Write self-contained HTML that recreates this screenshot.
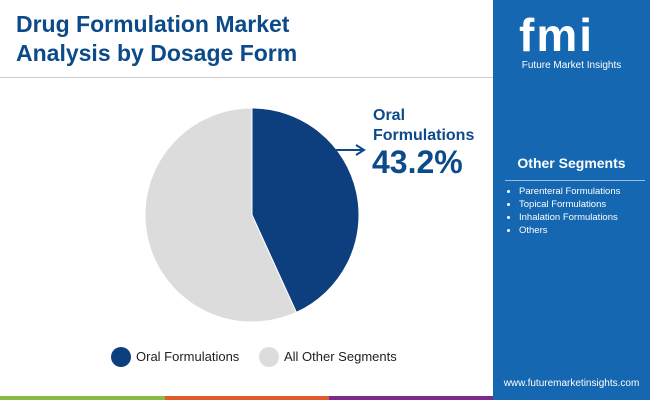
<!DOCTYPE html>
<html><head><meta charset="utf-8"><style>
body{margin:0;width:650px;height:400px;overflow:hidden;background:#fff;font-family:"Liberation Sans",sans-serif;position:relative}
.t{position:absolute;left:16px;top:10px;font-size:23px;font-weight:bold;color:#0d4a8a;line-height:29px}
.panel{position:absolute;left:493px;top:0;width:157px;height:400px;background:#1467b0}
</style></head><body>
<div class="t">Drug Formulation Market<br>Analysis by Dosage Form</div>
<div style="position:absolute;left:0;top:77px;width:493px;height:1px;background:#ccc"></div>
<div class="panel">
 <div style="position:absolute;left:26px;top:8px;font-size:46px;font-weight:bold;color:#fff;letter-spacing:2px">fmi</div>
 <div style="position:absolute;left:0;width:157px;text-align:center;top:60px;font-size:10px;color:#fff">Future Market Insights</div>
 <div style="position:absolute;left:0;width:157px;text-align:center;top:155px;font-size:14px;font-weight:bold;color:#fff">Other Segments</div>
 <div style="position:absolute;left:12px;top:180px;width:140px;height:1px;background:#9cc0e0"></div>
 <ul style="position:absolute;left:0;top:185px;margin:0;padding-left:26px;font-size:9.5px;color:#fff;line-height:13px">
  <li>Parenteral Formulations</li>
  <li>Topical Formulations</li>
  <li>Inhalation Formulations</li>
  <li>Others</li>
 </ul>
 <div style="position:absolute;left:0;width:157px;text-align:center;top:378px;font-size:10px;color:#fff">www.futuremarketinsights.com</div>
</div>
<div style="position:absolute;left:0;top:396px;width:165px;height:4px;background:#8cbb45"></div>
<div style="position:absolute;left:165px;top:396px;width:164px;height:4px;background:#e05a2a"></div>
<div style="position:absolute;left:329px;top:396px;width:164px;height:4px;background:#7b2c8a"></div>
<svg id="pie" width="493" height="396" style="position:absolute;left:0;top:0"></svg>
<div style="position:absolute;left:373px;top:106px;font-size:16px;font-weight:bold;color:#0d4a8a;line-height:20px">Oral<br>Formulations</div>
<div style="position:absolute;left:372px;top:144px;font-size:32px;font-weight:bold;color:#0d4a8a">43.2%</div>
<div style="position:absolute;left:111px;top:347px;width:20px;height:20px;border-radius:50%;background:#0d3f7e"></div>
<div style="position:absolute;left:136px;top:349px;font-size:13px;color:#222">Oral Formulations</div>
<div style="position:absolute;left:259px;top:347px;width:20px;height:20px;border-radius:50%;background:#dcdcdc"></div>
<div style="position:absolute;left:284px;top:349px;font-size:13px;color:#222">All Other Segments</div>
<script>
const categories=["Oral Formulations","All Other Segments"];
const values=[43.2,56.8];
const colors=["#0d3f7e","#dcdcdc"];
const svg=document.getElementById('pie');
const cx=252,cy=215,r=107;
const total=values.reduce((a,b)=>a+b,0);
let a0=0;
function pt(a){const t=a/total*2*Math.PI-Math.PI/2;return [cx+r*Math.cos(t),cy+r*Math.sin(t)];}
values.forEach((v,i)=>{
 const p0=pt(a0),p1=pt(a0+v);
 const large=v/total>0.5?1:0;
 const path=document.createElementNS('http://www.w3.org/2000/svg','path');
 path.setAttribute('d',`M${cx},${cy}L${p0[0]},${p0[1]}A${r},${r} 0 ${large} 1 ${p1[0]},${p1[1]}Z`);
 path.setAttribute('fill',colors[i]);
 path.setAttribute('stroke','#fff');
 path.setAttribute('stroke-width','1');
 
 
 svg.appendChild(path);
 a0+=v;
});
const ar=document.createElementNS('http://www.w3.org/2000/svg','path');
ar.setAttribute('d','M335,150L362,150M356,145L364,150L356,155');
ar.setAttribute('stroke','#0d4a8a');ar.setAttribute('stroke-width','2');ar.setAttribute('fill','none');


svg.appendChild(ar);
</script>
</body></html>
